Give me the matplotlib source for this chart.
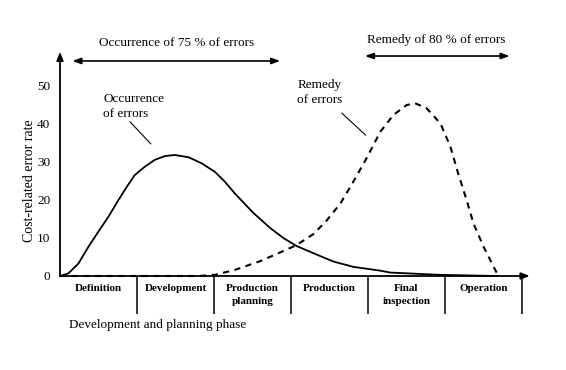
import matplotlib
matplotlib.use("Agg")
import matplotlib.pyplot as plt

plt.rcParams['font.family'] = ['Liberation Serif', 'DejaVu Serif']

# phases along the x axis
phases = ['Definition', 'Development', 'Production\nplanning', 'Production',
          'Final\ninspection', 'Operation']
y_ticks = [0, 10, 20, 30, 40, 50]

# occurrence of errors (solid)
occ_x = [0.0, 0.11, 0.24, 0.37, 0.50, 0.63, 0.76, 0.87, 0.97, 1.10, 1.23,
         1.36, 1.49, 1.67, 1.84, 2.01, 2.14, 2.27, 2.51, 2.73, 2.90, 3.07,
         3.29, 3.55, 3.81, 4.16, 4.29, 4.94, 5.68]
occ_y = [0.0, 0.7, 3.3, 7.7, 11.7, 15.6, 20.0, 23.5, 26.5, 28.7, 30.5,
         31.5, 31.8, 31.2, 29.6, 27.4, 24.8, 21.7, 16.6, 12.6, 10.0, 7.9,
         6.0, 3.8, 2.4, 1.4, 0.9, 0.3, 0.0]

# remedy of errors (dashed)
rem_x = [0.0, 1.79, 2.01, 2.27, 2.60, 2.86, 3.07, 3.29, 3.46, 3.64, 3.81,
         3.98, 4.16, 4.33, 4.50, 4.61, 4.76, 4.94, 5.07, 5.17, 5.28, 5.37,
         5.50, 5.67, 5.70]
rem_y = [0.0, 0.0, 0.3, 1.6, 3.9, 6.2, 8.1, 11.0, 14.5, 19.0, 24.8,
         30.9, 37.9, 42.3, 44.9, 45.4, 44.1, 40.1, 34.0, 27.0, 20.0, 13.8,
         7.7, 0.9, 0.0]

fig = plt.figure(figsize=(5.66, 3.70), dpi=100)
ax = fig.add_axes([60 / 566, 94 / 370, 462 / 566, 190.3 / 370])
ax.set_xlim(0, 6)
ax.set_ylim(0, 50)

for s in ax.spines.values():
    s.set_visible(False)

ax.plot(occ_x, occ_y, color='black', lw=1.3, clip_on=False)
ax.plot(rem_x, rem_y, color='black', lw=1.5, ls=(0, (3, 2.6)), clip_on=False)

# axes with arrow heads
arr = dict(arrowstyle='-|>,head_length=0.5,head_width=0.2', color='black',
           lw=1.3, shrinkA=0, shrinkB=0)
ax.annotate('', xy=(6.1, 0), xytext=(0, 0), arrowprops=arr, annotation_clip=False)
ax.annotate('', xy=(0, 58.9), xytext=(0, 0), arrowprops=arr, annotation_clip=False)

# y ticks
ax.set_yticks(y_ticks)
ax.tick_params(axis='y', length=0, pad=7, labelsize=9.5)
ax.set_ylabel('Cost-related error rate', fontsize=10, labelpad=1)

# phase dividers and labels
ax.set_xticks(range(1, 7))
ax.set_xticklabels([])
ax.tick_params(axis='x', which='major', direction='out', length=27, width=1.1)
ax.set_xticks([i + 0.5 for i in range(6)], minor=True)
ax.set_xticklabels(phases, minor=True, fontweight='bold', fontsize=8,
                   linespacing=1.5, va='top')
ax.tick_params(axis='x', which='minor', length=0, pad=6)

ax.text(0.02, -0.26, 'Development and planning phase', transform=ax.transAxes,
        fontsize=9.5, ha='left', va='center')

# span arrows on top
span = dict(arrowstyle='<|-|>,head_length=0.5,head_width=0.18', color='black',
            lw=1.2, shrinkA=0, shrinkB=0)
ax.annotate('', xy=(2.86, 56.5), xytext=(0.16, 56.5), arrowprops=span,
            annotation_clip=False)
ax.text(1.51, 61.3, 'Occurrence of 75 % of errors', ha='center', va='center',
        fontsize=9.5)
ax.annotate('', xy=(5.84, 57.8), xytext=(3.96, 57.8), arrowprops=span,
            annotation_clip=False)
ax.text(4.88, 62.1, 'Remedy of 80 % of errors', ha='center', va='center',
        fontsize=9.5)

# curve labels with leader lines
ax.text(0.56, 48.0, 'Occurrence\nof errors', ha='left', va='top', fontsize=9.5,
        linespacing=1.3)
ax.annotate('', xy=(1.18, 34.7), xytext=(0.91, 40.5),
            arrowprops=dict(arrowstyle='-', lw=0.8, shrinkA=0, shrinkB=0))
ax.text(3.08, 51.8, 'Remedy\nof errors', ha='left', va='top', fontsize=9.5,
        linespacing=1.3)
ax.annotate('', xy=(3.97, 37.0), xytext=(3.66, 42.8),
            arrowprops=dict(arrowstyle='-', lw=0.8, shrinkA=0, shrinkB=0))

fig.savefig('out.png', dpi=100)
